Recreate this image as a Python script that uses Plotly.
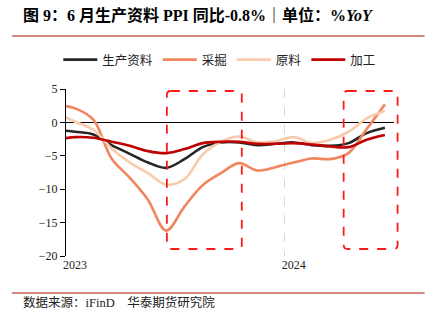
import plotly.graph_objects as go

# Monthly PPI year-on-year by industrial stage (%), Dec 2022 - Jun 2024
months = ["2022-12", "2023-01", "2023-02", "2023-03", "2023-04", "2023-05", "2023-06",
          "2023-07", "2023-08", "2023-09", "2023-10", "2023-11", "2023-12",
          "2024-01", "2024-02", "2024-03", "2024-04", "2024-05", "2024-06"]
month_pos = list(range(-1, len(months) - 1))  # Jan 2023 = 0

production = [-1.1, -1.4, -1.8, -3.4, -4.7, -6.0, -6.8, -5.5, -3.7, -3.0, -3.0, -3.4, -3.2,
              -3.0, -3.4, -3.5, -3.1, -1.6, -0.8]
mining = [2.6, 2.1, 0.4, -5.4, -8.3, -11.6, -16.2, -12.6, -9.4, -7.6, -6.1, -7.2, -6.7,
          -6.0, -5.4, -5.5, -4.6, -1.0, 2.7]
raw = [1.4, 0.1, -1.1, -3.9, -6.0, -7.6, -9.3, -8.5, -4.8, -2.9, -2.1, -3.0, -2.8,
       -2.2, -3.1, -2.6, -1.4, 0.6, 1.7]
processing = [-2.6, -2.2, -2.3, -2.9, -3.5, -4.3, -4.6, -4.0, -3.1, -2.9, -2.9, -3.2, -3.2,
              -3.1, -3.3, -3.6, -3.7, -2.6, -1.9]

series_names = ["生产资料", "采掘", "原料", "加工"]
series_values = [production, mining, raw, processing]
series_colors = ["#262626", "#F0855E", "#F8CBAD", "#C00000"]

year_tick_pos = [-0.5, 11.5]
year_tick_text = ["2023", "2024"]
y_ticks = [5, 0, -5, -10, -15, -20]

FONT = "Liberation Serif, Noto Sans CJK SC"

# canvas and plot-area geometry (pixels)
W, H = 442, 326
ML, MR, MT, MB = 66, 47.6, 89, 70
PW, PH = W - ML - MR, H - MT - MB


def px(x):
    return (x - ML) / PW


def py(y):
    return (H - MB - y) / PH


def rounded_box(x0, y0, x1, y1, r=4):
    pts = [
        ("M", (x0 + r, y0)), ("L", (x1 - r, y0)), ("Q", (x1, y0), (x1, y0 + r)),
        ("L", (x1, y1 - r)), ("Q", (x1, y1), (x1 - r, y1)), ("L", (x0 + r, y1)),
        ("Q", (x0, y1), (x0, y1 - r)), ("L", (x0, y0 + r)), ("Q", (x0, y0), (x0 + r, y0)),
    ]
    parts = []
    for cmd, *coords in pts:
        parts.append(cmd + " ".join(f"{px(a):.5f},{py(b):.5f}" for a, b in coords))
    return " ".join(parts) + " Z"


fig = go.Figure()
for name, vals, col in zip(series_names, series_values, series_colors):
    fig.add_trace(go.Scatter(
        x=month_pos, y=vals, name=name, mode="lines",
        line=dict(color=col, width=2.6, shape="spline", smoothing=1.0),
        customdata=months, hovertemplate="%{customdata}: %{y}<extra>" + name + "</extra>",
    ))

shapes = []
# highlight boxes
for (bx0, by0, bx1, by1) in [(167, 91, 242, 249), (344, 91, 398, 249)]:
    shapes.append(dict(type="path", xref="paper", yref="paper",
                       path=rounded_box(bx0, by0, bx1, by1),
                       line=dict(color="#FF1A1A", width=1.8, dash="dash")))
# header / footer rules
for yy in (36, 293):
    shapes.append(dict(type="line", xref="paper", yref="paper",
                       x0=px(12), x1=px(425), y0=py(yy), y1=py(yy),
                       line=dict(color="#C8605C", width=1.5)))

annotations = [
    dict(xref="paper", yref="paper", x=px(21), y=py(15), xanchor="left", yanchor="middle",
         text="<b>图 9：6 月生产资料 PPI 同比-0.8%｜单位：%<i>YoY</i></b>",
         showarrow=False, font=dict(family=FONT, size=16, color="#000000")),
    dict(xref="paper", yref="paper", x=px(21), y=py(302), xanchor="left", yanchor="middle",
         text="数据来源：iFinD    华泰期货研究院",
         showarrow=False, font=dict(family=FONT, size=12.5, color="#222222")),
]

fig.update_layout(
    width=W, height=H,
    margin=dict(l=ML, r=MR, t=MT, b=MB, pad=0),
    paper_bgcolor="white", plot_bgcolor="white",
    font=dict(family=FONT, size=12, color="#222222"),
    showlegend=True,
    legend=dict(orientation="h", x=px(220), xanchor="center", y=py(60), yanchor="middle",
                font=dict(family=FONT, size=12.5, color="#222222"), itemwidth=34,
                bgcolor="rgba(0,0,0,0)"),
    shapes=shapes, annotations=annotations,
    xaxis=dict(range=[-0.5, 17.5], tickmode="array", tickvals=year_tick_pos,
               ticktext=year_tick_text, ticks="", showline=False, zeroline=False,
               showgrid=True, gridcolor="#D9D9D9", griddash="dash", gridwidth=1,
               ticklabelshift=9, tickfont=dict(family=FONT, size=12, color="#222222")),
    xaxis2=dict(range=[-0.5, 17.5], overlaying="x", anchor="free", position=py(122.4),
                tickmode="array", tickvals=year_tick_pos, ticks="outside", ticklen=4,
                tickcolor="#000000", showticklabels=False, showgrid=False,
                showline=False, zeroline=False),
    yaxis=dict(range=[-20, 5], tickmode="array", tickvals=y_ticks, ticks="outside",
               ticklen=5, tickcolor="#000000", showline=True, linecolor="#000000",
               linewidth=1, showgrid=False, zeroline=True, zerolinecolor="#000000",
               zerolinewidth=1, tickfont=dict(family=FONT, size=12, color="#222222")),
)

fig.write_html("out.html")
